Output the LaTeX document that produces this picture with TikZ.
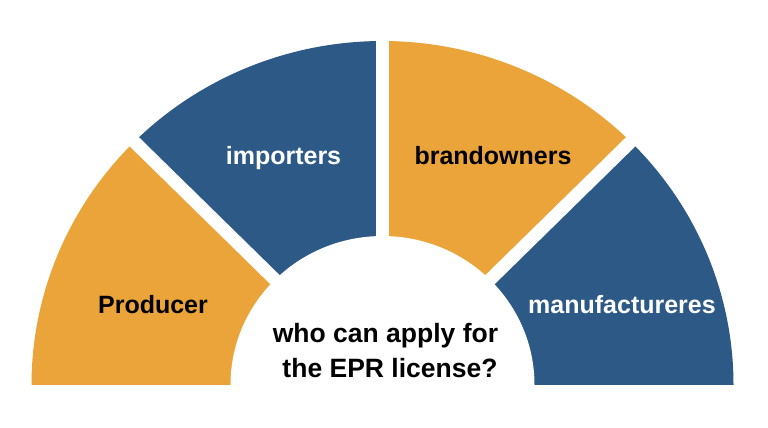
\documentclass[tikz,border=0pt]{standalone}
\usepackage{fontspec}
\setmainfont{Liberation Sans}
\definecolor{orng}{HTML}{EBA43A}
\definecolor{blu}{HTML}{2D5986}
\tikzset{
  lbl/.style={font=\fontsize{25}{30}\selectfont\bfseries, anchor=base, inner sep=0pt},
  qtext/.style={font=\fontsize{26.5}{35}\selectfont\bfseries, anchor=base, inner sep=0pt, text=black},
  gapline/.style={white, line width=13pt}
}
\begin{document}
\begin{tikzpicture}[x=1pt,y=1pt]
\useasboundingbox (0,0) rectangle (768,428);
\fill[white] (0,0) rectangle (768,428);
\coordinate (C) at (382.5,43);
\begin{scope}[shift={(C)}, yscale=0.98]
  \fill[orng] (0,0) -- (180:351) arc[start angle=180, end angle=135, radius=351] -- cycle;
  \fill[blu]  (0,0) -- (135:351) arc[start angle=135, end angle=90, radius=351] -- cycle;
  \fill[orng] (0,0) -- (90:351) arc[start angle=90, end angle=45, radius=351] -- cycle;
  \fill[blu]  (0,0) -- (45:351) arc[start angle=45, end angle=0, radius=351] -- cycle;
  \coordinate (O) at (0,0);
  \coordinate (g1) at (135:380);
  \coordinate (g2) at (90:380);
  \coordinate (g3) at (45:380);
  \draw[gapline] (O) -- (g1);
  \draw[gapline] (O) -- (g2);
  \draw[gapline] (O) -- (g3);
  \fill[white] (0,0) -- (180:152) arc[start angle=180, end angle=0, radius=152] -- cycle;
\end{scope}
\node[lbl, text=black] (producer) at (153,114) {Producer};
\node[lbl, text=white] (importers) at (283.5,263) {importers};
\node[lbl, text=black] (brand) at (493,263) {brandowners};
\node[lbl, text=white] (manuf) at (622,114) {manufactureres};
\node[qtext] (q1) at (385.5,85) {who can apply for};
\node[qtext] (q2) at (390,50) {the EPR license?};
\end{tikzpicture}
\end{document}
